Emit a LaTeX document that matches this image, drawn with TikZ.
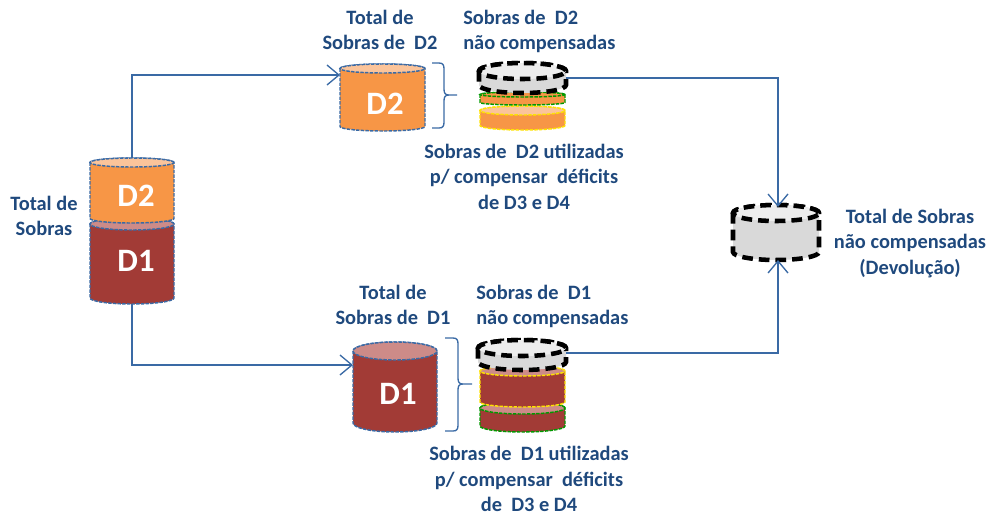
\documentclass[tikz,border=0pt]{standalone}
\usepackage{fontspec}
\setmainfont{Carlito}
\usetikzlibrary{arrows.meta}
\definecolor{txtblue}{HTML}{1F497D}
\definecolor{lineblue}{HTML}{3A6AA5}
\definecolor{orangeB}{HTML}{F79646}
\definecolor{orangeL}{HTML}{FBC49A}
\definecolor{redB}{HTML}{A23B36}
\definecolor{redL}{HTML}{CD8B88}
\definecolor{grayB}{HTML}{D9D9D9}
\definecolor{grayL}{HTML}{EDEDED}
\tikzset{
  lbl/.style={text=txtblue,font=\fontsize{15.3}{19.1}\selectfont\bfseries,align=center,inner sep=0pt},
  lblleft/.style={lbl,align=left,anchor=west},
  cyltext/.style={text=white,font=\fontsize{24.5}{25}\selectfont\bfseries,inner sep=0pt},
  edgeblue/.style={draw=lineblue,line width=1.1pt,dash pattern=on 2.6pt off 0.9pt},
  edgegreen/.style={draw=green!60!black,line width=1.1pt,dash pattern=on 2.6pt off 0.9pt},
  edgeyellow/.style={draw=yellow!85!orange,line width=1.1pt,dash pattern=on 2.6pt off 0.9pt},
  edgeblack/.style={draw=black,line width=3.4pt,dash pattern=on 8pt off 4.5pt},
  conn/.style={draw=lineblue,line width=1pt,-{Straight Barb[length=9pt,width=15pt,line width=1pt]}},
  bracel/.style={draw=lineblue,line width=1pt},
}
% \cyl[edge]{name}{x1}{x2}{top}{bottom}{ry}{body}{lid}
\newcommand\cyl[8][edgeblue]{%
  \pgfmathsetmacro\cylA{(#4-#3)/2*0.75}%
  \pgfmathsetmacro\cylR{#7*0.75}%
  \pgfmathsetmacro\cylC{(#3+#4)/2}%
  \pgfmathsetmacro\cylT{#5+#7}%
  \pgfmathsetmacro\cylB{#6-#7}%
  \path[fill=#8,#1] (#3,\cylT) -- (#3,\cylB)
     arc[start angle=180,end angle=360,x radius=\cylA pt,y radius=\cylR pt]
     -- (#4,\cylT)
     arc[start angle=0,end angle=180,x radius=\cylA pt,y radius=\cylR pt] -- cycle;
  \cylLid{#1}%
  \node[inner sep=0pt,outer sep=0pt,minimum width=\cylA pt*2,minimum height={(#6-#5)*0.75pt}] (#2) at (\cylC,{(#5+#6)/2}) {};
}
\newcommand\cylLid[1]{\path[fill=\cylLidColor,#1] (\cylC,\cylT) ellipse[x radius=\cylA pt,y radius=\cylR pt];}
\newcommand\lidc[1]{\def\cylLidColor{#1}}
\begin{document}
\begin{tikzpicture}[x=0.75pt,y=-0.75pt]
\useasboundingbox (0,0) rectangle (991,515);
\coordinate (d2in) at (340,75);
\coordinate (d1in) at (353,365);
\coordinate (d2out) at (566,78);
\coordinate (d1out) at (566,353);
\coordinate (resT) at (778,207);
\coordinate (resB) at (778,260);
% left stack
\lidc{redL}\cyl{leftDone}{90}{174}{218}{304}{6}{redB}
\lidc{orangeL}\cyl{leftDtwo}{90}{174}{158}{223}{4.5}{orangeB}
\node[cyltext] (tD2) at (136,196) {D2};
\node[cyltext] (tD1) at (136,261) {D1};
% upper
\lidc{orangeL}\cyl{upD}{340}{425}{64}{131}{4.5}{orangeB}
\node[cyltext] (tUp) at (385,104) {D2};
\lidc{orangeL}\cyl[edgeyellow]{upY}{480}{565}{106}{130}{4.5}{orangeB}
\lidc{orangeB}\cyl[edgegreen]{upG}{480}{565}{92}{105}{2.5}{orangeB}
\lidc{grayL}\cyl[edgeblack]{upK}{479}{566}{63}{93}{8}{grayB}
% lower
\lidc{redL}\cyl{loD}{353}{437}{342}{432}{9}{redB}
\node[cyltext] (tLo) at (398,394) {D1};
\lidc{redL}\cyl[edgegreen]{loG}{480}{565}{402}{432}{6}{redB}
\lidc{redL}\cyl[edgeyellow]{loY}{480}{565}{366}{407}{5}{redB}
\lidc{grayL}\cyl[edgeblack]{loK}{478}{566}{340}{370}{8}{grayB}
% result
\lidc{grayL}\cyl[edgeblack]{res}{733}{819}{205}{260}{8}{grayB}
% connectors
\draw[conn] (leftDtwo.north) |- (d2in);
\draw[conn] (leftDone.south) |- (d1in);
\draw[conn] (d2out) -| (resT);
\draw[conn] (d1out) -| (resB);
% braces
\draw[bracel] (432,63) -- (439,63) .. controls (443,63) and (444,65) .. (444,69) -- (444,89)
  .. controls (444,93) and (445,95) .. (449,95) -- (457,95)
  (449,95) .. controls (445,95) and (444,97) .. (444,101) -- (444,122)
  .. controls (444,126) and (443,128) .. (439,128) -- (432,128);
\draw[bracel] (445,338) -- (453,338) .. controls (457,338) and (458,340) .. (458,344) -- (458,378)
  .. controls (458,382) and (459,384) .. (463,384) -- (472,384)
  (463,384) .. controls (459,384) and (458,386) .. (458,390) -- (458,425)
  .. controls (458,429) and (457,431) .. (453,431) -- (445,431);
% labels
\node[lbl] (a) at (44,216) {Total de\\Sobras};
\node[lbl] (b) at (380,30) {Total de\\Sobras de\ \ D2};
\node[lblleft] (c) at (463,31.5) {Sobras de\ \ D2\\não compensadas};
\node[lbl] (d) at (524,176.5) {Sobras de\ \ D2 utilizadas\\p/ compensar\ \ déficits\\de D3 e D4};
\node[lbl] (e) at (393,305) {Total de\\Sobras de\ \ D1};
\node[lblleft] (f) at (476,306.5) {Sobras de\ \ D1\\não compensadas};
\node[lbl] (g) at (529,479) {Sobras de\ \ D1 utilizadas\\p/ compensar\ \ déficits\\de\ \ D3 e D4};
\node[lbl] (h) at (910,243.5) {Total de Sobras\\não compensadas\\(Devolução)};
\end{tikzpicture}
\end{document}
